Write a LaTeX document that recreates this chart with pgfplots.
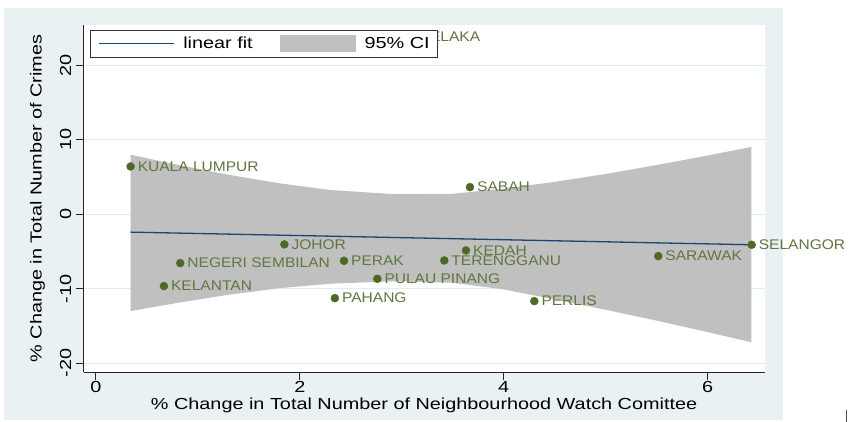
\documentclass[border=0pt]{standalone}
\usepackage{fontspec}
\setmainfont[FakeStretch=1.24]{Liberation Sans}
\newfontfamily\lblfont[FakeStretch=1.11]{Liberation Sans}
\usepackage{pgfplots}
\usepackage{pgfplotstable}
\pgfplotsset{compat=1.18}
\definecolor{bgc}{RGB}{234,241,243}
\definecolor{bandc}{RGB}{192,192,192}
\definecolor{fitc}{RGB}{26,71,111}
\definecolor{dotc}{RGB}{78,104,38}
\definecolor{lblc}{RGB}{96,118,62}
\definecolor{gridc}{RGB}{226,236,239}

\pgfplotstableread[col sep=comma]{
x,y,label
0.340,6.42,KUALA LUMPUR
0.827,-6.56,NEGERI SEMBILAN
0.667,-9.65,KELANTAN
1.848,-4.05,JOHOR
2.433,-6.25,PERAK
2.760,-8.67,PULAU PINANG
2.344,-11.27,PAHANG
3.669,3.65,SABAH
3.630,-4.86,KEDAH
3.417,-6.21,TERENGGANU
5.516,-5.62,SARAWAK
6.432,-4.10,SELANGOR
4.300,-11.67,PERLIS
3.080,23.8,MELAKA
}\states

\begin{document}
\begin{tikzpicture}[x=1pt,y=1pt]
\useasboundingbox (0,0) rectangle (849,422);
\fill[bgc] (4,2) rectangle (783,414);
\draw[black!70, line width=0.8pt] (846.5,0) -- (846.5,12);
\begin{axis}[
  at={(82,67)}, anchor=south west, scale only axis,
  width=681pt, height=347pt,
  xmin=-0.121, xmax=6.559, ymin=-21.21, ymax=25.41,
  axis x line*=bottom, axis y line*=left,
  axis line style={-, line width=1.1pt, black!85},
  xtick={0,2,4,6}, xticklabels={0,2,4,6},
  ytick={-20,-10,0,10,20}, yticklabels={-20,-10,0,10,20},
  tick align=outside, major tick length=8pt,
  tick style={line width=1pt, black!85},
  ymajorgrids, grid style={line width=1pt, gridc},
  axis background/.style={fill=white},
  font=\fontsize{16}{19}\selectfont,
  xticklabel style={anchor=base, yshift=-12pt, inner sep=0pt},
  yticklabel style={xshift=-4pt, rotate=90, anchor=south, inner sep=0pt},
  xlabel={\% Change in Total Number of Neighbourhood Watch Comittee},
  ylabel={\% Change in Total Number of Crimes},
  every axis x label/.style={at={(axis description cs:0.5,-0.107)}, anchor=base},
  every axis y label/.style={at={(axis description cs:-0.0617,0.5)}, rotate=90, anchor=base},
  clip=false,
  legend columns=2,
  legend style={at={(axis description cs:0,1)}, anchor=north west,
    xshift=6pt, yshift=-4.7pt, draw=black!80, line width=0.8pt, fill=white,
    inner xsep=8pt, inner ysep=5pt, font=\fontsize{16}{19}\selectfont,
    nodes={inner sep=0pt},
    /tikz/every odd column/.append style={column sep=9pt},
    /tikz/every even column/.append style={column sep=27pt}},
]
\addplot[fill=bandc, draw=none, forget plot] coordinates {
  (0.34,7.99) (0.8,6.65) (1.3,5.31) (1.8,4.16) (2.3,3.25) (2.93,2.70)
  (3.5,2.75) (4.0,3.45) (4.5,4.35) (5.0,5.41) (5.5,6.61) (6.0,7.89) (6.43,9.04)
  (6.43,-17.20) (6.0,-15.83) (5.5,-14.29) (5.0,-12.83) (4.5,-11.45) (4.0,-10.1)
  (3.5,-9.2) (2.93,-9.0) (2.3,-9.33) (1.8,-9.93) (1.3,-10.82) (0.8,-11.90) (0.34,-13.01)
} -- cycle;
\addplot[fitc, line width=1.3pt, forget plot] coordinates {(0.340,-2.40) (6.432,-4.10)};
\addplot[only marks, mark=*, mark size=4pt, dotc, forget plot,
  point meta=explicit symbolic, nodes near coords,
  nodes near coords style={anchor=west, inner sep=0pt, xshift=7pt,
    font=\lblfont\fontsize{14}{16}\selectfont, text=lblc}]
  table[x=x, y=y, meta=label] {\states};
\addlegendimage{legend image code/.code={\draw[fitc, line width=1.3pt] (0pt,0pt) -- (75pt,0pt);}}
\addlegendentry{linear fit}
\addlegendimage{legend image code/.code={\fill[bandc] (0pt,-8pt) rectangle (75pt,8pt);}}
\addlegendentry{95\% CI}
\end{axis}
\end{tikzpicture}
\end{document}
